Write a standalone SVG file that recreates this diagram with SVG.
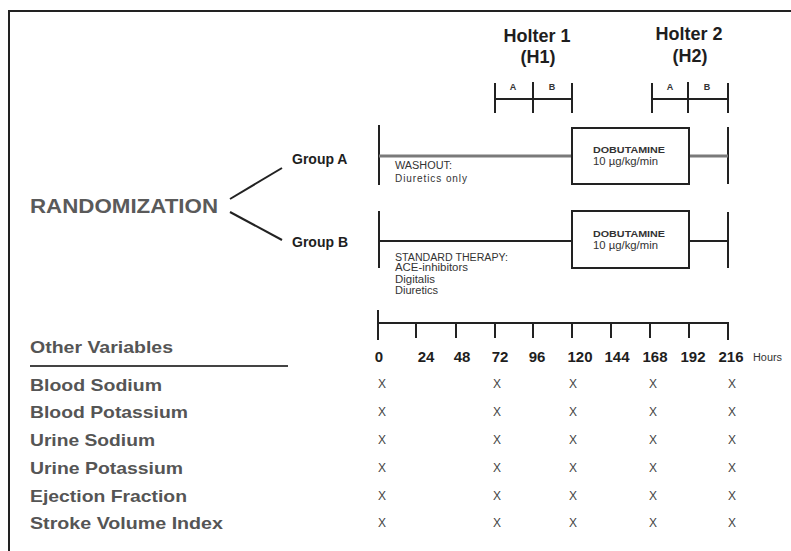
<svg xmlns="http://www.w3.org/2000/svg" width="791" height="551" viewBox="0 0 791 551">
<style>
  .ln{stroke:#222;stroke-width:2;fill:none}
  .lg{stroke:#7a7a7a;stroke-width:3;fill:none}
  .hd{font-family:"Liberation Sans",Arial,sans-serif;font-weight:bold;fill:#1e1e1e}
  .gr{font-family:"Liberation Sans",Arial,sans-serif;font-weight:bold;fill:#5a5a5a}
  .sm{font-family:"Liberation Sans",Arial,sans-serif;font-size:10px;fill:#333}
  .smb{font-family:"Liberation Sans",Arial,sans-serif;font-size:9px;font-weight:bold;fill:#333}
  .num{font-family:"Liberation Sans",Arial,sans-serif;font-size:15px;font-weight:bold;fill:#1e1e1e;text-anchor:middle}
  .x{font-family:"Liberation Sans",Arial,sans-serif;font-size:12px;fill:#444;text-anchor:middle}
  .lab{font-family:"Liberation Sans",Arial,sans-serif;font-size:17px;font-weight:bold;fill:#555}
</style>
<rect width="791" height="551" fill="#fff"/>
<path d="M9 551 V11 H791" class="ln"/>

<g id="randomization">
  <text x="30" y="213" class="gr" font-size="20" textLength="188" lengthAdjust="spacingAndGlyphs">RANDOMIZATION</text>
</g>

<g id="connectors">
  <line x1="230" y1="199" x2="282" y2="168" class="ln" stroke="#444"/>
  <line x1="230" y1="212" x2="282" y2="240" class="ln" stroke="#444"/>
</g>

<g id="holter1">
  <text x="537" y="42" class="hd" font-size="18" text-anchor="middle">Holter 1</text>
  <text x="538" y="63" class="hd" font-size="18" text-anchor="middle">(H1)</text>
  <path d="M495 83 V113 M533 82 V113 M572 83 V113 M495 99 H572" class="ln"/>
  <text x="513" y="90" class="smb" font-size="7" text-anchor="middle">A</text>
  <text x="552" y="90" class="smb" font-size="7" text-anchor="middle">B</text>
</g>

<g id="holter2">
  <text x="689" y="40" class="hd" font-size="18" text-anchor="middle">Holter 2</text>
  <text x="690" y="62" class="hd" font-size="18" text-anchor="middle">(H2)</text>
  <path d="M652 83 V113 M688 82 V113 M728 83 V113 M652 99 H728" class="ln"/>
  <text x="670" y="90" class="smb" font-size="7" text-anchor="middle">A</text>
  <text x="707" y="90" class="smb" font-size="7" text-anchor="middle">B</text>
</g>

<g id="groupA">
  <text x="292" y="164" class="hd" font-size="14">Group A</text>
  <path d="M379 125 V185 M728 127 V184" class="ln"/>
  <path d="M379 156 H572 M689 156 H728" class="lg"/>
  <rect x="572" y="128" width="117" height="56" class="ln"/>
  <text x="395" y="169" class="sm" font-size="9" textLength="57" lengthAdjust="spacingAndGlyphs">WASHOUT:</text>
  <text x="395" y="182" class="sm" textLength="72" lengthAdjust="spacing">Diuretics only</text>
  <text x="593" y="153" class="smb" textLength="72" lengthAdjust="spacingAndGlyphs">DOBUTAMINE</text>
  <text x="593" y="165" class="sm" font-size="9" textLength="65" lengthAdjust="spacingAndGlyphs">10 µg/kg/min</text>
</g>

<g id="groupB">
  <text x="292" y="247" class="hd" font-size="14">Group B</text>
  <path d="M379 211 V268 M728 212 V268" class="ln"/>
  <path d="M379 241 H572 M689 241 H728" class="ln"/>
  <rect x="572" y="211" width="117" height="57" class="ln"/>
  <text x="395" y="261" class="sm" font-size="9" textLength="113" lengthAdjust="spacingAndGlyphs">STANDARD THERAPY:</text>
  <text x="395" y="271" class="sm" font-size="9" textLength="73" lengthAdjust="spacingAndGlyphs">ACE-inhibitors</text>
  <text x="395" y="283" class="sm" font-size="9" textLength="40" lengthAdjust="spacingAndGlyphs">Digitalis</text>
  <text x="395" y="294" class="sm" font-size="9" textLength="43" lengthAdjust="spacingAndGlyphs">Diuretics</text>
  <text x="593" y="237" class="smb" textLength="72" lengthAdjust="spacingAndGlyphs">DOBUTAMINE</text>
  <text x="593" y="249" class="sm" font-size="9" textLength="65" lengthAdjust="spacingAndGlyphs">10 µg/kg/min</text>
</g>

<g id="timeline">
  <path d="M378 310 V340 M378 323 H728 V340 M416 323 V338 M456 323 V338 M495 323 V338 M533 323 V338 M572 323 V338 M611 323 V338 M650 323 V338 M689 323 V338" class="ln"/>
  <text x="379" y="362" class="num">0</text>
  <text x="426" y="362" class="num">24</text>
  <text x="462" y="362" class="num">48</text>
  <text x="500" y="362" class="num">72</text>
  <text x="537" y="362" class="num">96</text>
  <text x="580" y="362" class="num">120</text>
  <text x="617" y="362" class="num">144</text>
  <text x="655" y="362" class="num">168</text>
  <text x="693" y="362" class="num">192</text>
  <text x="731" y="362" class="num">216</text>
  <text x="753" y="361" class="sm" font-size="7" textLength="29" lengthAdjust="spacingAndGlyphs">Hours</text>
</g>

<g id="variables">
  <text x="30" y="353" class="lab" textLength="143" lengthAdjust="spacingAndGlyphs" fill="#666">Other Variables</text>
  <line x1="30" y1="366" x2="288" y2="366" stroke="#444" stroke-width="2"/>
  <text x="30" y="391" class="lab" textLength="132" lengthAdjust="spacingAndGlyphs">Blood Sodium</text>
  <text x="30" y="418" class="lab" textLength="158" lengthAdjust="spacingAndGlyphs">Blood Potassium</text>
  <text x="30" y="446" class="lab" textLength="125" lengthAdjust="spacingAndGlyphs">Urine Sodium</text>
  <text x="30" y="474" class="lab" textLength="153" lengthAdjust="spacingAndGlyphs">Urine Potassium</text>
  <text x="30" y="502" class="lab" textLength="157" lengthAdjust="spacingAndGlyphs">Ejection Fraction</text>
  <text x="30" y="529" class="lab" textLength="193" lengthAdjust="spacingAndGlyphs">Stroke Volume Index</text>
</g>

<g id="marks">
  <g>
    <text x="382" y="388" class="x">X</text><text x="497" y="388" class="x">X</text><text x="573" y="388" class="x">X</text><text x="653" y="388" class="x">X</text><text x="732" y="388" class="x">X</text>
  </g>
  <g>
    <text x="382" y="416" class="x">X</text><text x="497" y="416" class="x">X</text><text x="573" y="416" class="x">X</text><text x="653" y="416" class="x">X</text><text x="732" y="416" class="x">X</text>
  </g>
  <g>
    <text x="382" y="444" class="x">X</text><text x="497" y="444" class="x">X</text><text x="573" y="444" class="x">X</text><text x="653" y="444" class="x">X</text><text x="732" y="444" class="x">X</text>
  </g>
  <g>
    <text x="382" y="472" class="x">X</text><text x="497" y="472" class="x">X</text><text x="573" y="472" class="x">X</text><text x="653" y="472" class="x">X</text><text x="732" y="472" class="x">X</text>
  </g>
  <g>
    <text x="382" y="500" class="x">X</text><text x="497" y="500" class="x">X</text><text x="573" y="500" class="x">X</text><text x="653" y="500" class="x">X</text><text x="732" y="500" class="x">X</text>
  </g>
  <g>
    <text x="382" y="527" class="x">X</text><text x="497" y="527" class="x">X</text><text x="573" y="527" class="x">X</text><text x="653" y="527" class="x">X</text><text x="732" y="527" class="x">X</text>
  </g>
</g>
</svg>
